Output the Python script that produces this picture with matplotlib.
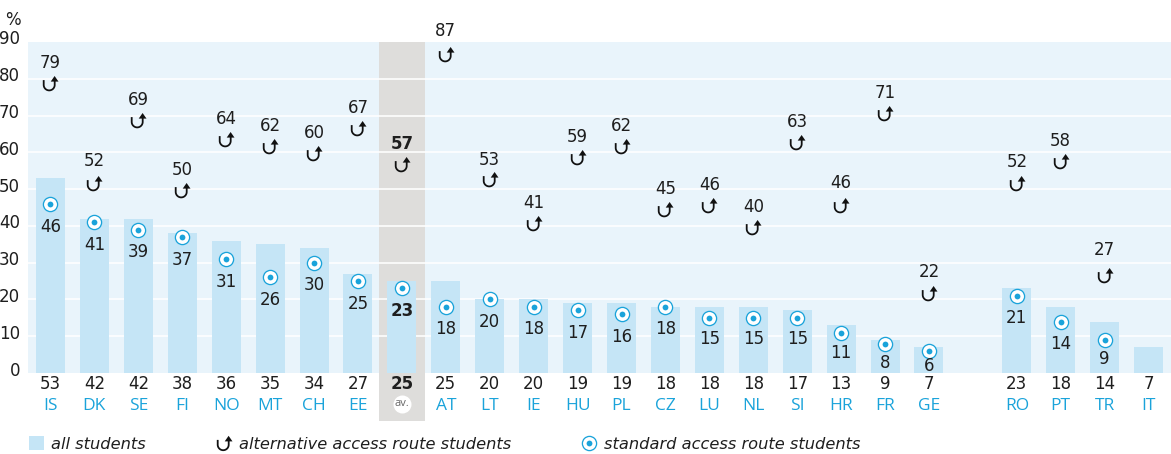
import numpy as np
import matplotlib
matplotlib.use("Agg")
import matplotlib.pyplot as plt
from matplotlib.path import Path
from matplotlib.patches import Patch
from matplotlib.lines import Line2D
from matplotlib.legend_handler import HandlerTuple
from matplotlib.transforms import ScaledTranslation

codes = ["IS","DK","SE","FI","NO","MT","CH","EE","av.","AT","LT","IE","HU","PL","CZ","LU","NL","SI","HR","FR","GE","","RO","PT","TR","IT"]
all_students = [53,42,42,38,36,35,34,27,25,25,20,20,19,19,18,18,18,17,13,9,7,None,23,18,14,7]
alternative = [79,52,69,50,64,62,60,67,57,87,53,41,59,62,45,46,40,63,46,71,22,None,52,58,27,None]
standard = [46,41,39,37,31,26,30,25,23,18,20,18,17,16,18,15,15,15,11,8,6,None,21,14,9,None]
yticks = [0,10,20,30,40,50,60,70,80,90]

# pixel offsets of the value labels from their marks
alt_offset = {"AT": 21.8, "TR": 23.6, "HR": 20.4, "RO": 20, "GE": 20, "DK": 20.6, "LT": 17.8}
std_offset = {"HR": -20, "FR": -19.7, "GE": -15, "TR": -19, "LU": -21, "NL": -21, "SI": -21}

W, H = 1171, 454
BAR = "#C5E5F6"; BG = "#E9F4FB"; GREY = "#DEDDDB"; BLUE = "#1AA3DA"; INK = "#1E1E1E"
FONT = "DejaVu Sans"; CODEFONT = "Open Sans"
px = 72/100

def uturn(dy=0.0):
    cx, cy, ro, ri = -1.3, -2.4, 6.4, 4.6
    t = np.linspace(np.pi, 2*np.pi, 30)
    outer = np.c_[cx+ro*np.cos(t), cy+ro*np.sin(t)]
    inner = np.c_[cx+ri*np.cos(t[::-1]), cy+ri*np.sin(t[::-1])]
    v = [(cx-ro, 2.4)] + outer.tolist() + [(cx+ro, 0.9), (8, 0.9), (4.1, 6.5), (0.2, 0.9), (cx+ri, 0.9)] + inner.tolist() + [(cx-ri, 2.4), (cx-ro, 2.4)]
    return Path(np.array(v) + np.array([0.0, dy]), closed=True)
UT = uturn()
UT_LEG = uturn(1.2)
UT_MS = 2*np.abs(UT.vertices).max()*px
UT_LEG_MS = 2*np.abs(UT_LEG.vertices).max()*px
RING_MS = 14.2*px; RING_EW = 1.3*px; DOT_MS = 5.8*px

fig = plt.figure(figsize=(W/100, H/100), dpi=100)
ax = fig.add_axes([28/W, 1-373/H, (W-28)/W, 331/H])
ax.set_facecolor(BG)
ax.set_xlim(-0.512, 25.51); ax.set_ylim(0, 90)
for s in ax.spines.values():
    s.set_visible(False)

x = np.arange(len(codes))
ax.axvspan(8-0.515, 8+0.515, ymin=-48/331, ymax=1, color=GREY, lw=0, zorder=1, clip_on=False)
ax.set_yticks(yticks)
ax.set_yticklabels([str(v) for v in yticks], fontname=FONT, fontsize=12, color=INK)
ax.tick_params(axis="y", length=0, pad=8*px)
ax.set_xticks([])
ax.set_axisbelow("line")
ax.grid(axis="y", color="white", lw=1.6*px)
gl = ax.get_ygridlines()
gl[0].set_visible(False); gl[-1].set_visible(False)
off = ScaledTranslation(0, 4.5/100, fig.dpi_scale_trans)
for lb in ax.get_yticklabels():
    lb.set_transform(lb.get_transform()+off)

all_v = np.array([np.nan if v is None else v for v in all_students], float)
alt_v = np.array([np.nan if v is None else v for v in alternative], float)
std_v = np.array([np.nan if v is None else v for v in standard], float)

ax.bar(x, all_v, width=0.66, color=BAR, lw=0, zorder=3)
ax.plot(x, alt_v, ls="", marker=UT, ms=UT_MS, mfc="#111111", mec="none", zorder=5, clip_on=False)
ax.plot(x, std_v, ls="", marker="o", ms=RING_MS, mfc="white", mec=BLUE, mew=RING_EW, zorder=5)
ax.plot(x, std_v, ls="", marker="o", ms=DOT_MS, mfc=BLUE, mec="none", zorder=6)

def label(i, y, dy, txt, bold=False, **kw):
    ax.annotate(txt, (i, y), xytext=(0, dy), textcoords="offset pixels", ha="center", va="center",
                fontsize=kw.pop("fontsize", 12), fontname=kw.pop("fontname", FONT),
                color=kw.pop("color", INK), fontweight="bold" if bold else "normal", zorder=7,
                annotation_clip=False, **kw)

for i in x:
    if np.isnan(all_v[i]):
        continue
    bold = codes[i] == "av."
    if not np.isnan(alt_v[i]):
        label(i, alt_v[i], alt_offset.get(codes[i], 19), f"{int(alt_v[i])}", bold)
    if not np.isnan(std_v[i]):
        label(i, std_v[i], std_offset.get(codes[i], -22.7), f"{int(std_v[i])}", bold)
    label(i, 0, -11, f"{int(all_v[i])}", bold)
    if bold:
        ax.plot([i], [0], marker="o", ms=18*px, mfc="white", mec="none", zorder=6, clip_on=False,
                transform=ax.get_xaxis_transform() + ScaledTranslation(0, -31/100, fig.dpi_scale_trans))
        label(i, 0, -31, "av.", fontsize=8, color="#666666", fontname=CODEFONT)
    else:
        label(i, 0, -32.5, codes[i], fontsize=12.5, color=BLUE, fontname=CODEFONT)

fig.text(13/W, 1-20/H, "%", fontname=FONT, fontsize=12, color=INK, ha="center", va="center")

handles = [Patch(facecolor=BAR, lw=0),
           Line2D([], [], ls="", marker=UT_LEG, ms=UT_LEG_MS, mfc="#111111", mec="none"),
           (Line2D([], [], ls="", marker="o", ms=RING_MS, mfc="white", mec=BLUE, mew=RING_EW),
            Line2D([], [], ls="", marker="o", ms=DOT_MS, mfc=BLUE, mec="none"))]
leg = fig.legend(handles, ["all students", "alternative access route students", "standard access route students"],
           loc="center left", bbox_to_anchor=(29/W, 1-444/H), bbox_transform=fig.transFigure, ncol=3, frameon=False,
           prop={"family": "DejaVu Sans", "style": "italic", "size": 11.7}, borderpad=0, borderaxespad=0,
           handlelength=0.94, handleheight=0.94, handletextpad=0.42, columnspacing=4.35,
           handler_map={tuple: HandlerTuple(ndivide=1, pad=0)}, labelcolor=INK)
fig.savefig("out.png", dpi=100)
